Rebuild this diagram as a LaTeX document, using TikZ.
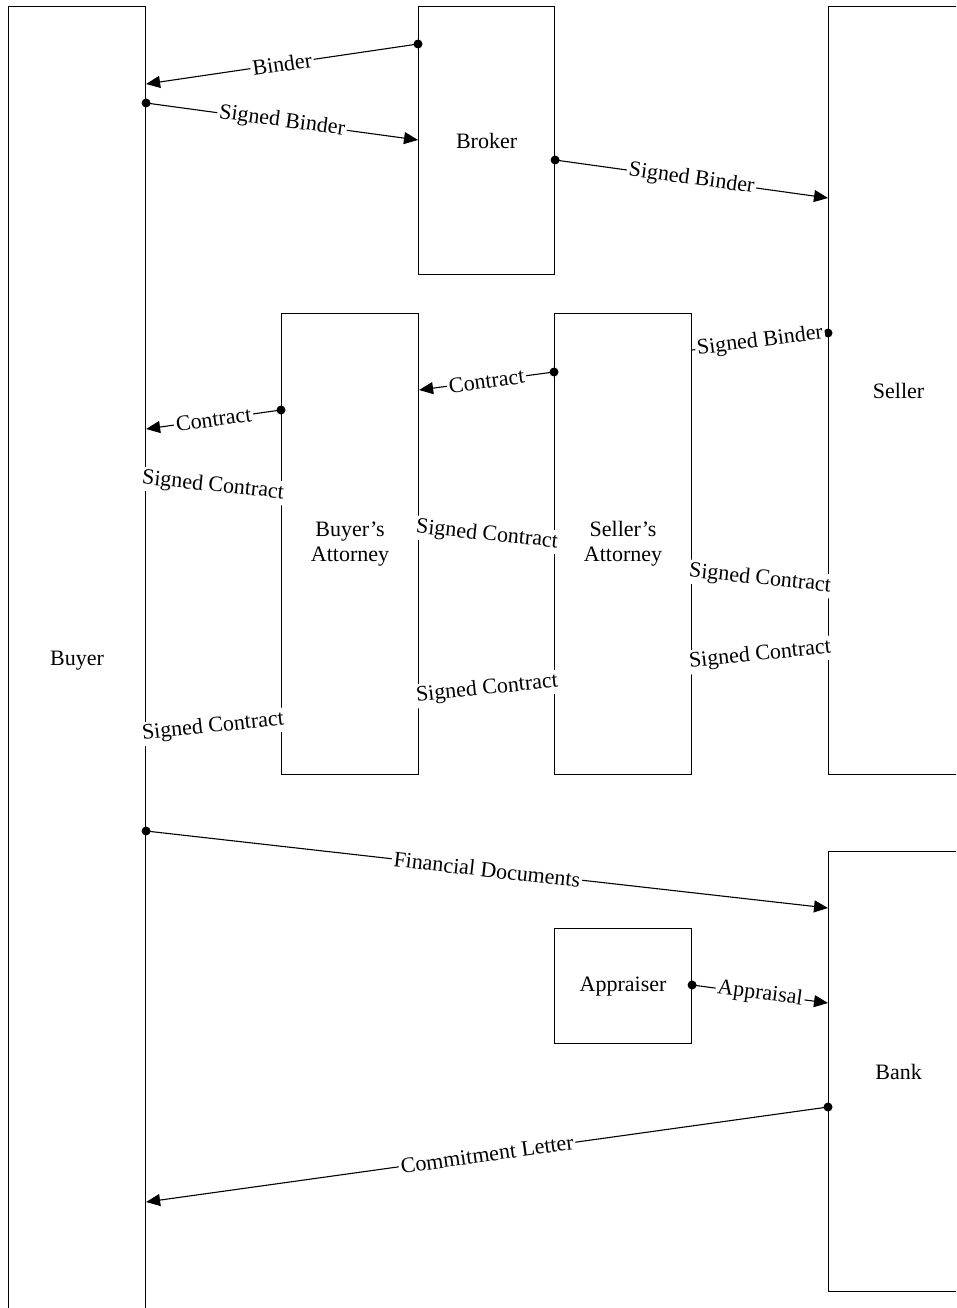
\documentclass[tikz,border=0pt]{standalone}
\usepackage{fontspec}
\setmainfont{Liberation Serif}
\usetikzlibrary{arrows.meta}
\tikzset{
  box/.style={draw, line width=1.1pt, rectangle, inner sep=0pt, align=center, font=\fontsize{22}{25}\selectfont},
  lbl/.style={fill=white, inner sep=2pt, font=\fontsize{22}{24}\selectfont},
  conn/.style={line width=1.1pt},
  arr/.style={conn, -{Triangle[length=14pt,width=12pt]}},
  dot/.style={circle, fill=black, inner sep=0pt, minimum size=9pt}
}
\begin{document}
\begin{tikzpicture}[x=1pt,y=-1pt]
\useasboundingbox (0,0) rectangle (956,1308);
\clip (0,0) rectangle (956,1308);
% boxes
\node[box, minimum width=137pt, minimum height=1308pt, anchor=north west] (buyer) at (8,6) {Buyer};
\node[box, minimum width=136pt, minimum height=268pt, anchor=north west] (broker) at (418,6) {Broker};
\node[box, minimum width=140pt, minimum height=768pt, anchor=north west] (seller) at (828,6) {Seller};
\node[box, minimum width=137pt, minimum height=461pt, anchor=north west] (batty) at (281,313) {Buyer's\\Attorney};
\node[box, minimum width=137pt, minimum height=461pt, anchor=north west] (satty) at (554,313) {Seller's\\Attorney};
\node[box, minimum width=140pt, minimum height=440pt, anchor=north west] (bank) at (828,851) {Bank};
\node[box, minimum width=137pt, minimum height=115pt, anchor=north west] (appr) at (554,928) {Appraiser};
% dots
\node[dot] (d1) at (broker.west |- 0,44) {};
\node[dot] (d2) at (buyer.east |- 0,103) {};
\node[dot] (d3) at (broker.east |- 0,160) {};
\node[dot] (d4) at (seller.west |- 0,333) {};
\node[dot] (d5) at (satty.west |- 0,372) {};
\node[dot] (d6) at (batty.west |- 0,410) {};
\node[dot] (d7) at (buyer.east |- 0,831) {};
\node[dot] (d8) at (appr.east |- 0,985) {};
\node[dot] (d9) at (bank.west |- 0,1107) {};
% connectors
\draw[arr] (d1.center) -- node[lbl, sloped] {Binder} (buyer.east |- 0,84);
\draw[arr] (d2.center) -- node[lbl, sloped] {Signed Binder} (broker.west |- 0,140);
\draw[arr] (d3.center) -- node[lbl, sloped] {Signed Binder} (seller.west |- 0,198);
\draw[conn] (d4.center) -- node[lbl, sloped] {Signed Binder} (satty.east |- 0,350);
\draw[arr] (d5.center) -- node[lbl, sloped] {Contract} (batty.east |- 0,390);
\draw[arr] (d6.center) -- node[lbl, sloped] {Contract} (buyer.east |- 0,429);
\draw[arr] (d7.center) -- node[lbl, sloped] {Financial Documents} (bank.west |- 0,908);
\draw[arr] (d8.center) -- node[lbl, sloped] {Appraisal} (bank.west |- 0,1003);
\draw[arr] (d9.center) -- node[lbl, sloped] {Commitment Letter} (buyer.east |- 0,1202);
% signed contract labels
\node[lbl, rotate=-6] (sc1) at (213,486) {Signed Contract};
\node[lbl, rotate=-6] (sc2) at (487,535) {Signed Contract};
\node[lbl, rotate=-6] (sc3) at (760,579) {Signed Contract};
\node[lbl, rotate=6] (sc4) at (760,655) {Signed Contract};
\node[lbl, rotate=6] (sc5) at (487,689) {Signed Contract};
\node[lbl, rotate=6] (sc6) at (213,727) {Signed Contract};
\end{tikzpicture}
\end{document}
